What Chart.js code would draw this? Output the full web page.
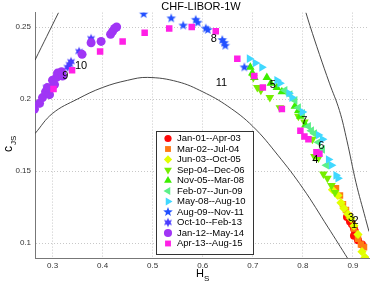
<!DOCTYPE html>
<html><head><meta charset="utf-8">
<script src="https://cdn.jsdelivr.net/npm/chart.js@4/dist/chart.umd.min.js"></script>
<style>html,body{margin:0;padding:0;background:#fff}#wrap{width:374px;height:282px}</style>
</head><body><div id="wrap"><canvas id="c" width="374" height="282"></canvas></div>
<script>
const TITLE = 'CHF-LIBOR-1W';
const X_TICKS = [0.3, 0.4, 0.5, 0.6, 0.7, 0.8, 0.9];
const X_TICK_LABELS = ['0.3', '0.4', '0.5', '0.6', '0.7', '0.8', '0.9'];
const Y_TICKS = [0.1, 0.15, 0.2, 0.25];
const Y_TICK_LABELS = ['0.1', '0.15', '0.2', '0.25'];
const SERIES_NAMES = ['Jan-01--Apr-03','Mar-02--Jul-04','Jun-03--Oct-05','Sep-04--Dec-06','Nov-05--Mar-08',
  'Feb-07--Jun-09','May-08--Aug-10','Aug-09--Nov-11','Oct-10--Feb-13','Jan-12--May-14','Apr-13--Aug-15'];

const s01 = [[0.888,0.118],[0.894,0.115],[0.898,0.113],[0.902,0.110],[0.904,0.108],[0.902,0.105],[0.910,0.102],[0.918,0.099]];
const s02 = [[0.866,0.138],[0.874,0.133],[0.880,0.127],[0.886,0.123],[0.892,0.119],[0.902,0.110],[0.910,0.103],[0.916,0.099],[0.922,0.097]];
const s03 = [[0.859,0.137],[0.870,0.133],[0.876,0.128],[0.882,0.124],[0.890,0.120],[0.896,0.117],[0.902,0.112],[0.910,0.106],[0.918,0.094],[0.924,0.090]];
const s04 = [[0.701,0.215],[0.709,0.208],[0.716,0.206],[0.734,0.201],[0.754,0.194],[0.791,0.188],[0.803,0.184],[0.819,0.172],[0.823,0.160],[0.831,0.159],[0.841,0.148],[0.849,0.145],[0.857,0.140],[0.864,0.135]];
const s05 = [[0.695,0.222],[0.699,0.218],[0.703,0.215],[0.728,0.215],[0.736,0.211],[0.748,0.208],[0.758,0.205],[0.784,0.195],[0.791,0.192],[0.795,0.188],[0.805,0.182]];
const s06 = [[0.764,0.206],[0.774,0.203],[0.784,0.199],[0.791,0.194],[0.799,0.190],[0.811,0.181],[0.817,0.178],[0.823,0.176],[0.831,0.170],[0.839,0.165],[0.847,0.154]];
const s07 = [[0.693,0.228],[0.705,0.225],[0.718,0.222],[0.748,0.213],[0.754,0.211],[0.772,0.204],[0.778,0.201],[0.799,0.191],[0.831,0.175],[0.839,0.172],[0.851,0.158],[0.857,0.154],[0.866,0.147],[0.870,0.145]];
const s08 = [[0.482,0.259],[0.537,0.256],[0.561,0.251],[0.586,0.255],[0.590,0.253],[0.606,0.249],[0.610,0.248],[0.639,0.241],[0.643,0.239],[0.645,0.237],[0.683,0.222]];
const s09 = [[0.274,0.197],[0.288,0.208],[0.310,0.217],[0.330,0.222],[0.334,0.224],[0.337,0.226],[0.353,0.233],[0.377,0.242]];
const s10 = [[0.264,0.193],[0.274,0.197],[0.280,0.201],[0.286,0.205],[0.290,0.208],[0.294,0.203],[0.296,0.207],[0.300,0.213],[0.304,0.210],[0.308,0.215],[0.310,0.218],[0.318,0.219],[0.320,0.216],[0.359,0.231],[0.377,0.239],[0.397,0.240],[0.416,0.245],[0.420,0.247],[0.424,0.249],[0.428,0.250]];
const s11 = [[0.302,0.207],[0.339,0.220],[0.395,0.233],[0.440,0.240],[0.484,0.246],[0.533,0.249],[0.578,0.250],[0.626,0.247],[0.669,0.228],[0.703,0.216],[0.720,0.208],[0.758,0.193],[0.795,0.178],[0.803,0.174],[0.811,0.172],[0.827,0.163],[0.833,0.162]];

const CURVE_LOW = [[0.265,0.176],[0.30,0.190],[0.35,0.200],[0.40,0.208],[0.45,0.213],[0.49,0.215],[0.55,0.212],[0.60,0.205],[0.65,0.195],[0.70,0.181],[0.75,0.161],[0.80,0.138],[0.85,0.111],[0.89,0.089]];
const CURVE_LEFT = [[0.265,0.227],[0.312,0.260]];
const CURVE_RIGHT = [[0.806,0.260],[0.814,0.251],[0.833,0.231],[0.853,0.211],[0.873,0.192],[0.888,0.171],[0.906,0.142],[0.925,0.117],[0.932,0.108]];

const NUM_LABELS = ['1','2','3','4','5','6','7','8','9','10','11'];
const NUM_POS = [[0.902,0.1125],[0.905,0.1150],[0.896,0.1174],[0.825,0.1576],[0.740,0.2097],[0.837,0.1674],[0.803,0.1847],[0.622,0.2417],[0.3257,0.216],[0.357,0.2229],[0.6375,0.2111]];

function makeStar(n, r, inner, color) {
  const s = Math.ceil(2 * r + 2);
  const cv = document.createElement('canvas');
  cv.width = s; cv.height = s;
  const g = cv.getContext('2d');
  g.fillStyle = color;
  g.beginPath();
  for (let i = 0; i < 2 * n; i++) {
    const a = -Math.PI / 2 + i * Math.PI / n;
    const rr = (i % 2 === 0) ? r : r * inner;
    const px = s / 2 + rr * Math.cos(a), py = s / 2 + rr * Math.sin(a);
    if (i === 0) g.moveTo(px, py); else g.lineTo(px, py);
  }
  g.closePath(); g.fill();
  return cv;
}

const COLORS = ['#ff0a0a','#ff7a14','#e2ff00','#77ee00','#3cee00','#5cf088','#40d8ff','#2250ff','#4a3cff','#a035f5','#ff20e6'];
const STAR5 = makeStar(5, 5, 0.42, COLORS[7]);
const STAR6 = makeStar(6, 4.8, 0.5, COLORS[8]);
const STYLES = [
  {ps:'circle', rot:0, r:4},
  {ps:'rect', rot:0, r:4.6},
  {ps:'rectRot', rot:0, r:4.6},
  {ps:'triangle', rot:180, r:5},
  {ps:'triangle', rot:0, r:5},
  {ps:'triangle', rot:-90, r:5},
  {ps:'triangle', rot:90, r:5},
  {ps:STAR5, rot:0, r:5},
  {ps:STAR6, rot:0, r:5},
  {ps:'circle', rot:0, r:4.5},
  {ps:'rect', rot:0, r:4.6}
];
const SERIES = [s01,s02,s03,s04,s05,s06,s07,s08,s09,s10,s11];

const FONT = 'Liberation Sans, Arial, Helvetica, sans-serif';
const toXY = a => a.map(p => ({x: p[0], y: p[1]}));

const datasets = [];
SERIES.forEach((s, i) => {
  datasets.push({
    label: SERIES_NAMES[i], data: toXY(s), showLine: false,
    backgroundColor: COLORS[i], borderColor: COLORS[i], borderWidth: 0,
    pointStyle: STYLES[i].ps, rotation: STYLES[i].rot,
    pointRadius: STYLES[i].r, pointHoverRadius: STYLES[i].r, order: 11 - i
  });
});
[CURVE_LOW, CURVE_LEFT, CURVE_RIGHT].forEach(cu => {
  datasets.push({ data: toXY(cu), showLine: true, pointRadius: 0, borderColor: '#333', borderWidth: 0.9, fill: false, tension: 0.4, order: 100 });
});

const overlay = {
  id: 'overlay',
  afterDatasetsDraw(chart) {
    const ctx = chart.ctx, xs = chart.scales.x, ys = chart.scales.y;
    ctx.save();
    // number labels
    ctx.fillStyle = '#000';
    ctx.font = '11px ' + FONT;
    ctx.textAlign = 'center'; ctx.textBaseline = 'middle';
    NUM_LABELS.forEach((t, i) => {
      ctx.fillText(t, xs.getPixelForValue(NUM_POS[i][0]), ys.getPixelForValue(NUM_POS[i][1]));
    });
    // title
    ctx.textBaseline = 'alphabetic';
    ctx.fillText(TITLE, 201, 10);
    // x label H_S
    ctx.textAlign = 'left';
    ctx.font = '11px ' + FONT;
    ctx.fillText('H', 196, 277);
    ctx.font = '8px ' + FONT;
    ctx.fillText('S', 204, 281);
    // y label c_JS
    ctx.save();
    ctx.translate(12, 152);
    ctx.rotate(-Math.PI / 2);
    ctx.font = '12px ' + FONT;
    ctx.fillText('c', 0, 0);
    ctx.font = '8px ' + FONT;
    ctx.fillText('JS', 7, 3.5);
    ctx.restore();
    // legend
    const lx = 156, ly = 131, lw = 97, lh = 123;
    ctx.fillStyle = '#fff';
    ctx.fillRect(lx, ly, lw, lh);
    ctx.strokeStyle = '#333'; ctx.lineWidth = 1;
    ctx.strokeRect(lx + 0.5, ly + 0.5, lw, lh);
    ctx.font = '9.5px ' + FONT;
    ctx.textBaseline = 'middle';
    SERIES_NAMES.forEach((name, i) => {
      const yy = 138.5 + i * 10.5;
      ctx.fillStyle = COLORS[i];
      Chart.helpers.drawPoint(ctx, {pointStyle: STYLES[i].ps, rotation: STYLES[i].rot, radius: STYLES[i].r * 0.9, borderWidth: 0}, 168, yy);
      ctx.fillStyle = '#000';
      ctx.fillText(name, 177, yy);
    });
    ctx.restore();
  }
};

new Chart(document.getElementById('c'), {
  type: 'scatter',
  data: { datasets },
  options: {
    responsive: false, animation: false, devicePixelRatio: 1,
    layout: { padding: { top: 12.6, right: 1, left: 0, bottom: 0 } },
    plugins: { legend: { display: false }, tooltip: { enabled: false } },
    scales: {
      x: {
        type: 'linear', min: 0.265, max: 0.932,
        afterBuildTicks: s => { s.ticks = X_TICKS.map(v => ({value: v})); },
        afterFit: s => { s.height = 24; },
        ticks: { callback: (v) => X_TICK_LABELS[X_TICKS.indexOf(v)] ?? '', font: {family: FONT, size: 8}, color: '#333', padding: 3, maxRotation: 0 },
        grid: { color: '#c8c8c8', drawTicks: false, lineWidth: 1 },
        border: { display: true, color: '#777', width: 1, dash: [1, 2] }
      },
      y: {
        type: 'linear', min: 0.0896, max: 0.26,
        afterBuildTicks: s => { s.ticks = Y_TICKS.map(v => ({value: v})); },
        afterFit: s => { s.width = 35; },
        ticks: { callback: (v) => Y_TICK_LABELS[Y_TICKS.indexOf(v)] ?? '', font: {family: FONT, size: 8}, color: '#333', padding: 4 },
        grid: { color: '#c8c8c8', drawTicks: false, lineWidth: 1 },
        border: { display: true, color: '#777', width: 1, dash: [1, 2] }
      }
    }
  },
  plugins: [overlay]
});
</script></body></html>
